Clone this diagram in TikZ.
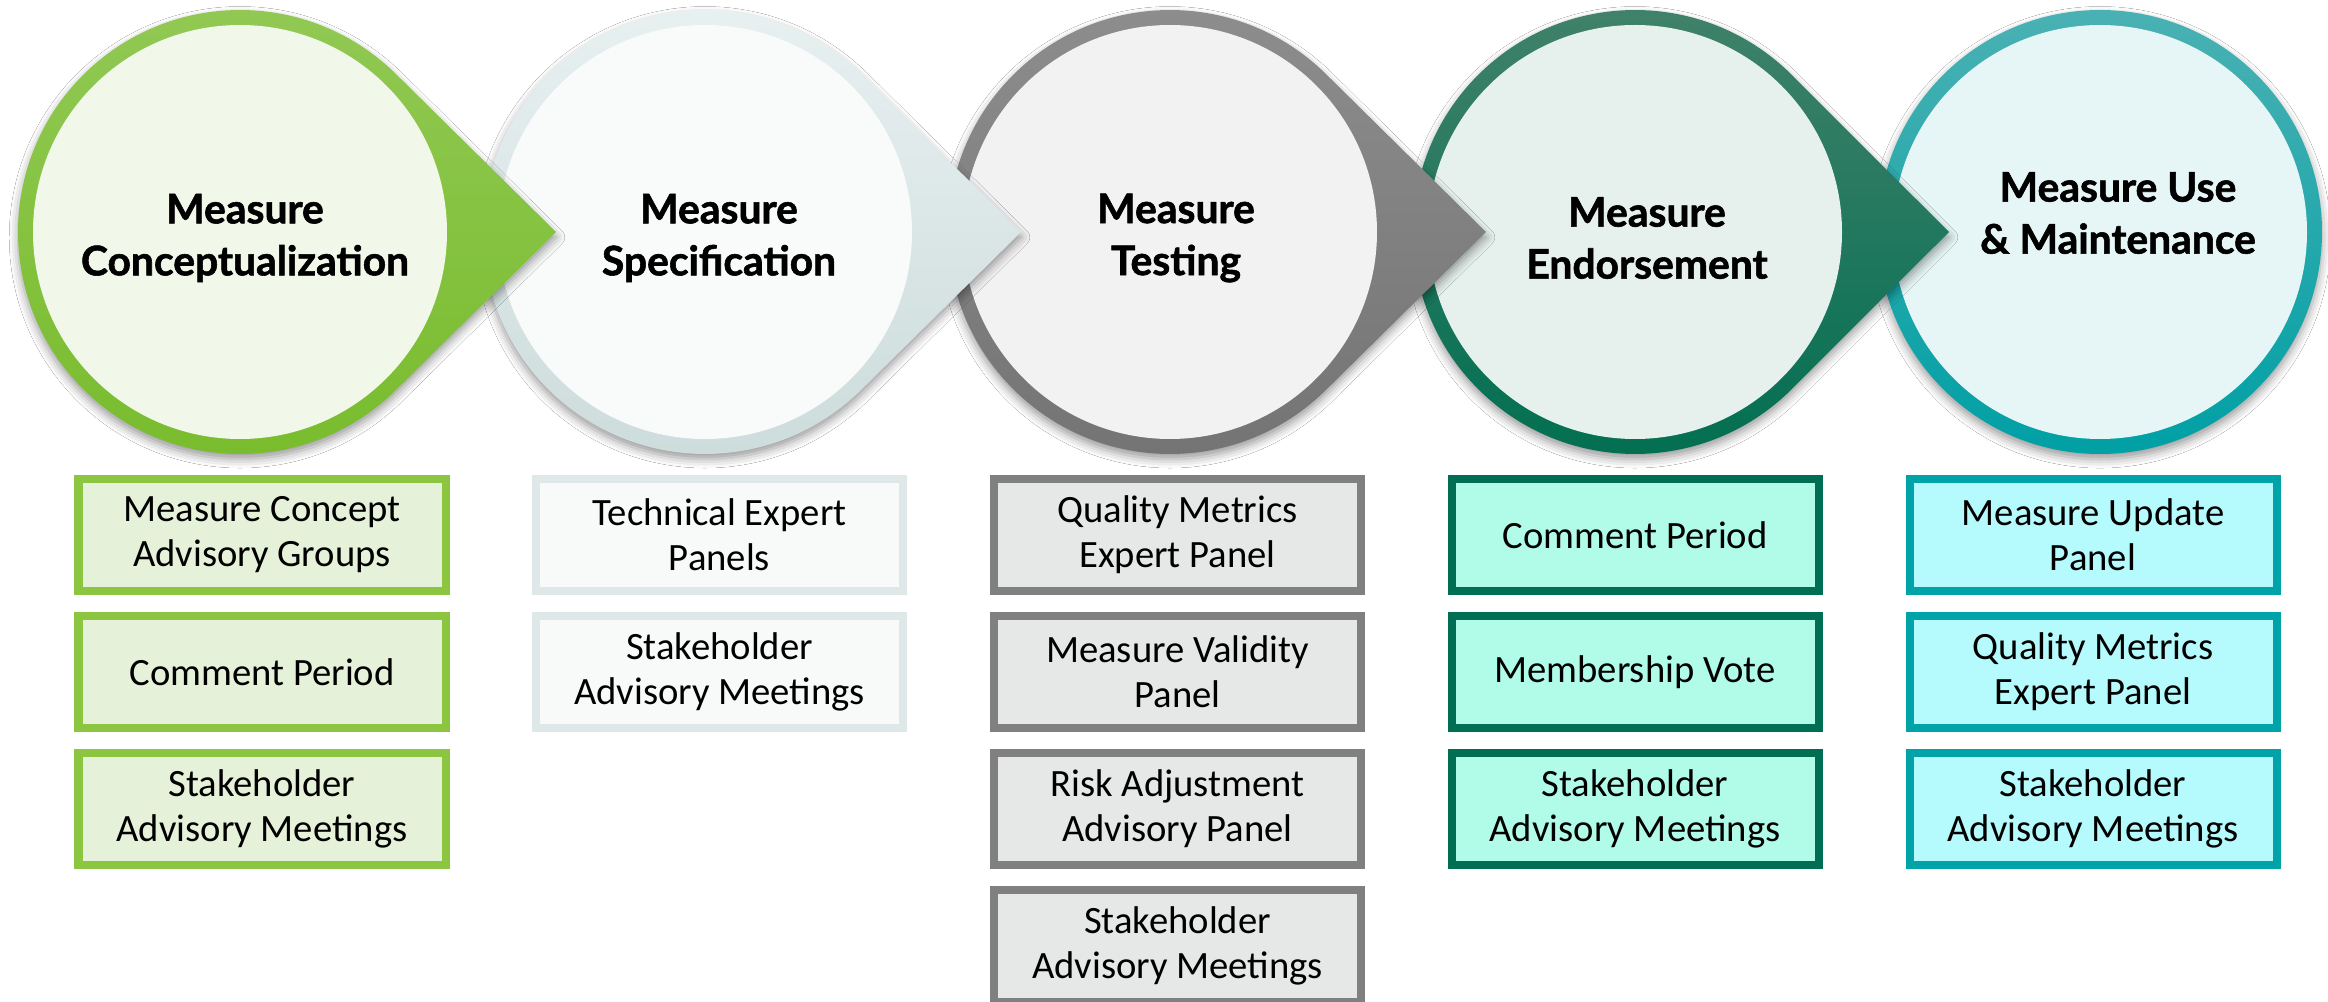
\documentclass[tikz,border=0pt]{standalone}
\usepackage{fontspec}
\setmainfont{Carlito}
\newfontfamily\headfont{Lato}[BoldFeatures={FakeBold=1.4}]
\usepackage{xcolor}
\usepackage{tikz}
\usetikzlibrary{positioning,shadows.blur}

\definecolor{conTop}{HTML}{92C955}
\definecolor{conBot}{HTML}{78BC2C}
\definecolor{conIn}{HTML}{F1F8EA}
\definecolor{conLine}{HTML}{8CC640}
\definecolor{conFill}{HTML}{E5F1D8}
\definecolor{specTop}{HTML}{E9F1F1}
\definecolor{specBot}{HTML}{CCDBDB}
\definecolor{specIn}{HTML}{F9FBFB}
\definecolor{specLine}{HTML}{DEE8E8}
\definecolor{specFill}{HTML}{F8FAFA}
\definecolor{testTop}{HTML}{8E8E8E}
\definecolor{testBot}{HTML}{737373}
\definecolor{testIn}{HTML}{F2F2F2}
\definecolor{testLine}{HTML}{808080}
\definecolor{testFill}{HTML}{E6E7E7}
\definecolor{endoTop}{HTML}{43826B}
\definecolor{endoBot}{HTML}{006E50}
\definecolor{endoIn}{HTML}{E6F0ED}
\definecolor{endoLine}{HTML}{006E52}
\definecolor{endoFill}{HTML}{B0FCE8}
\definecolor{useTop}{HTML}{4AB1B3}
\definecolor{useBot}{HTML}{00A0A5}
\definecolor{useIn}{HTML}{E6F5F5}
\definecolor{useLine}{HTML}{00A3A8}
\definecolor{useFill}{HTML}{B5FAFC}

\begin{document}
\begin{tikzpicture}[
    node distance=0.17cm,
    drop/.style={
        blur shadow={shadow xshift=0pt, shadow yshift=-1.5pt,
            shadow blur radius=2.5pt, shadow opacity=40}
    },
    title/.style={
        align=center,
        font=\headfont\bfseries\fontsize{11.6}{14.8}\selectfont
    },
    box/.style={
        draw,
        rectangle,
        line width=0.08cm,
        minimum width=3.67cm,
        minimum height=1.12cm,
        align=center,
        font=\fontsize{11}{12.8}\selectfont
    }
]
\useasboundingbox[fill=white] (0,0) rectangle (23.28,10.01);

% stage circles, last one first so each arrow tip lies on the next circle
\path[drop, top color=useTop, bottom color=useBot] (21.00,7.69) circle[radius=2.22];
\fill[useIn] (21.00,7.69) circle[radius=2.07];
\path[drop, top color=endoTop, bottom color=endoBot] (16.35,7.69) ++(45.4:2.22) arc[start angle=45.4, end angle=314.6, radius=2.22] -- (19.49,7.69) -- cycle;
\fill[endoIn] (16.35,7.69) circle[radius=2.07];
\path[drop, top color=testTop, bottom color=testBot] (11.70,7.69) ++(45.4:2.22) arc[start angle=45.4, end angle=314.6, radius=2.22] -- (14.86,7.69) -- cycle;
\fill[testIn] (11.70,7.69) circle[radius=2.07];
\path[drop, top color=specTop, bottom color=specBot] (7.05,7.69) ++(45.4:2.22) arc[start angle=45.4, end angle=314.6, radius=2.22] -- (10.21,7.69) -- cycle;
\fill[specIn] (7.05,7.69) circle[radius=2.07];
\path[drop, top color=conTop, bottom color=conBot] (2.40,7.69) ++(45.4:2.22) arc[start angle=45.4, end angle=314.6, radius=2.22] -- (5.56,7.69) -- cycle;
\fill[conIn] (2.40,7.69) circle[radius=2.07];

\node[title] (concept) at (2.45,7.63) {Measure\\Conceptualization};
\node[title] (spec) at (7.19,7.63) {Measure\\Specification};
\node[title] (test) at (11.76,7.63) {Measure\\Testing};
\node[title] (endorse) at (16.47,7.63) {Measure\\Endorsement};
\node[title] (use) at (21.18,7.88) {Measure Use\\\& Maintenance};

% activity boxes
\node[box, draw=conLine, fill=conFill] (concept1) at (2.62,4.66) {Measure Concept\\Advisory Groups};
\node[box, draw=conLine, fill=conFill, below=of concept1] (concept2) {Comment Period};
\node[box, draw=conLine, fill=conFill, below=of concept2] (concept3) {Stakeholder\\Advisory Meetings};

\node[box, draw=specLine, fill=specFill] (spec1) at (7.195,4.66) {Technical Expert\\Panels};
\node[box, draw=specLine, fill=specFill, below=of spec1] (spec2) {Stakeholder\\Advisory Meetings};

\node[box, draw=testLine, fill=testFill] (test1) at (11.775,4.66) {Quality Metrics\\Expert Panel};
\node[box, draw=testLine, fill=testFill, below=of test1] (test2) {Measure Validity\\Panel};
\node[box, draw=testLine, fill=testFill, below=of test2] (test3) {Risk Adjustment\\Advisory Panel};
\node[box, draw=testLine, fill=testFill, below=of test3] (test4) {Stakeholder\\Advisory Meetings};

\node[box, draw=endoLine, fill=endoFill] (endorse1) at (16.35,4.66) {Comment Period};
\node[box, draw=endoLine, fill=endoFill, below=of endorse1] (endorse2) {Membership Vote};
\node[box, draw=endoLine, fill=endoFill, below=of endorse2] (endorse3) {Stakeholder\\Advisory Meetings};

\node[box, draw=useLine, fill=useFill] (use1) at (20.93,4.66) {Measure Update\\Panel};
\node[box, draw=useLine, fill=useFill, below=of use1] (use2) {Quality Metrics\\Expert Panel};
\node[box, draw=useLine, fill=useFill, below=of use2] (use3) {Stakeholder\\Advisory Meetings};

\end{tikzpicture}
\end{document}
